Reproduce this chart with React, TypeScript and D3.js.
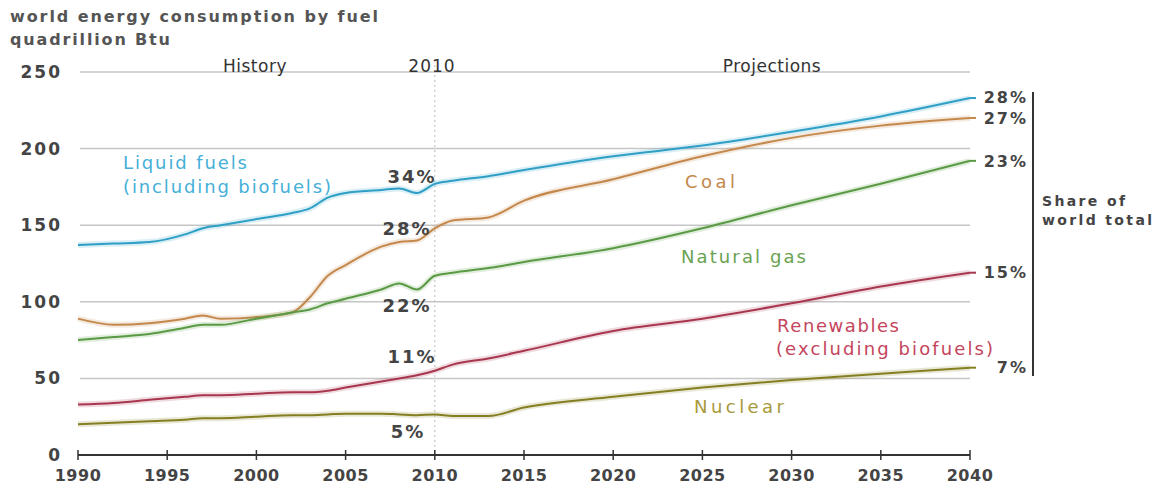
import React from "react";
import * as d3 from "d3";

const years = [1990, 1992, 1994, 1996, 1997, 1998, 2000, 2002, 2003, 2004, 2005, 2007, 2008, 2009, 2010, 2011, 2013, 2015, 2020, 2025, 2030, 2035, 2040];
const liquids = [137, 138, 139, 144, 148, 150, 154, 158, 161, 168, 171, 173, 174, 171, 177, 179, 182, 186, 195, 202, 211, 221, 233];
const coal = [89, 85, 86, 89, 91, 89, 90, 93, 103, 117, 124, 136, 139, 140, 148, 153, 155, 166, 180, 195, 207, 215, 220];
const gas = [75, 77, 79, 83, 85, 85, 89, 93, 95, 99, 102, 108, 112, 108, 117, 119, 122, 126, 135, 148, 163, 177, 192];
const renewables = [33, 34, 36, 38, 39, 39, 40, 41, 41, 42, 44, 48, 50, 52, 55, 59, 63, 68, 81, 89, 99, 110, 119];
const nuclear = [20, 21, 22, 23, 24, 24, 25, 26, 26, 26.5, 27, 27, 26.5, 26, 26.5, 25.5, 25.5, 31, 38, 44, 49, 53, 57];

const yTicks = [0, 50, 100, 150, 200, 250];
const xTicks = [1990, 1995, 2000, 2005, 2010, 2015, 2020, 2025, 2030, 2035, 2040];

const shares2010 = ["34%", "28%", "22%", "11%", "5%"];
const shares2040 = ["28%", "27%", "23%", "15%", "7%"];

const series = [
  { name: "liquids", values: liquids, color: "#2f9fc6" },
  { name: "coal", values: coal, color: "#c4884c" },
  { name: "gas", values: gas, color: "#5a9a44" },
  { name: "renewables", values: renewables, color: "#a8364f" },
  { name: "nuclear", values: nuclear, color: "#857f22" },
];

const FONT = "'DejaVu Sans', sans-serif";

export default function App() {
  const W = 1160, H = 491;
  const x = d3.scaleLinear().domain([1990, 2040]).range([78, 970]);
  const y = d3.scaleLinear().domain([0, 250]).range([455, 72]);
  const line = d3
    .line<number>()
    .x((_, i) => x(years[i]))
    .y((d) => y(d))
    .curve(d3.curveMonotoneX);

  const midLabels = [
    { t: shares2010[0], cx: 412, cy: 183 },
    { t: shares2010[1], cx: 407, cy: 235 },
    { t: shares2010[2], cx: 407, cy: 312 },
    { t: shares2010[3], cx: 412, cy: 363 },
    { t: shares2010[4], cx: 408, cy: 438 },
  ];
  const endY = [103, 124, 167, 278, 373];

  return (
    <svg width={W} height={H} style={{ position: "absolute", left: 0, top: 0, background: "#fff" }} fontFamily={FONT}>
      <rect width={W} height={H} fill="#fff" />
      {/* titles */}
      <text x={10} y={22} fontSize={16} fontWeight="bold" fill="#555" textLength={368} lengthAdjust="spacing">world energy consumption by fuel</text>
      <text x={10} y={45} fontSize={16} fontWeight="bold" fill="#555" textLength={160} lengthAdjust="spacing">quadrillion Btu</text>

      {/* gridlines */}
      {yTicks.filter((t) => t > 0).map((t) => (
        <line key={t} x1={80} x2={970} y1={y(t)} y2={y(t)} stroke="#c6c6c6" strokeWidth={1.5} />
      ))}
      {/* y labels */}
      {yTicks.map((t) => (
        <text key={t} x={62} y={y(t) + 6} fontSize={17} fontWeight="bold" fill="#444" textAnchor="end" letterSpacing={2}>{t}</text>
      ))}

      {/* 2010 divider */}
      <line x1={x(2010)} x2={x(2010)} y1={60} y2={455} stroke="#bbb" strokeWidth={1} strokeDasharray="2,3" />
      <text x={255} y={72} fontSize={17} fill="#333" textAnchor="middle" letterSpacing={0.5}>History</text>
      <text x={432} y={72} fontSize={17} fill="#333" textAnchor="middle" letterSpacing={1}>2010</text>
      <text x={772} y={72} fontSize={17} fill="#333" textAnchor="middle" letterSpacing={0.5}>Projections</text>

      {/* x axis */}
      <line x1={x(1990)} x2={x(2040)} y1={455} y2={455} stroke="#333" strokeWidth={2} />
      {xTicks.map((t) => (
        <g key={t}>
          <line x1={x(t)} x2={x(t)} y1={450} y2={460} stroke="#333" strokeWidth={1.5} />
          <text x={x(t)} y={481} fontSize={16} fontWeight="bold" fill="#444" textAnchor="middle" letterSpacing={0.5}>{t}</text>
        </g>
      ))}

      {/* series */}
      {series.map((s) => (
        <g key={s.name}>
          <path d={line(s.values) || ""} fill="none" stroke={s.color} strokeOpacity={0.18} strokeWidth={6} />
          <path d={line(s.values) || ""} fill="none" stroke={s.color} strokeWidth={2} />
          <line x1={x(2040)} x2={x(2040) + 6} y1={y(s.values[s.values.length - 1])} y2={y(s.values[s.values.length - 1])} stroke={s.color} strokeWidth={2} />
        </g>
      ))}

      {/* series labels */}
      <text x={123} y={169} fontSize={18} fill="#45b0d8" textLength={124} lengthAdjust="spacing">Liquid fuels</text>
      <text x={123} y={193} fontSize={18} fill="#45b0d8" textLength={208} lengthAdjust="spacing">(including biofuels)</text>
      <text x={685} y={188} fontSize={18} fill="#c4884c" textLength={50} lengthAdjust="spacing">Coal</text>
      <text x={681} y={263} fontSize={18} fill="#6aa352" textLength={125} lengthAdjust="spacing">Natural gas</text>
      <text x={777} y={332} fontSize={18} fill="#c4455c" textLength={122} lengthAdjust="spacing">Renewables</text>
      <text x={776} y={355} fontSize={18} fill="#c4455c" textLength={217} lengthAdjust="spacing">(excluding biofuels)</text>
      <text x={694} y={413} fontSize={18} fill="#a8993a" textLength={90} lengthAdjust="spacing">Nuclear</text>

      {/* 2010 shares */}
      {midLabels.map((m) => (
        <text key={m.t + m.cy} x={m.cx} y={m.cy} fontSize={18} fontWeight="bold" fill="#444" textAnchor="middle" letterSpacing={2}>{m.t}</text>
      ))}

      {/* 2040 shares */}
      {shares2040.map((t, i) => (
        <text key={t} x={1028} y={endY[i]} fontSize={16} fontWeight="bold" fill="#444" textAnchor="end" letterSpacing={2}>{t}</text>
      ))}
      <line x1={1033} x2={1033} y1={92} y2={376} stroke="#333" strokeWidth={2} />
      <text x={1042} y={206} fontSize={14} fontWeight="bold" fill="#444" textLength={83} lengthAdjust="spacing">Share of</text>
      <text x={1042} y={225} fontSize={14} fontWeight="bold" fill="#444" textLength={110} lengthAdjust="spacing">world total</text>
    </svg>
  );
}
